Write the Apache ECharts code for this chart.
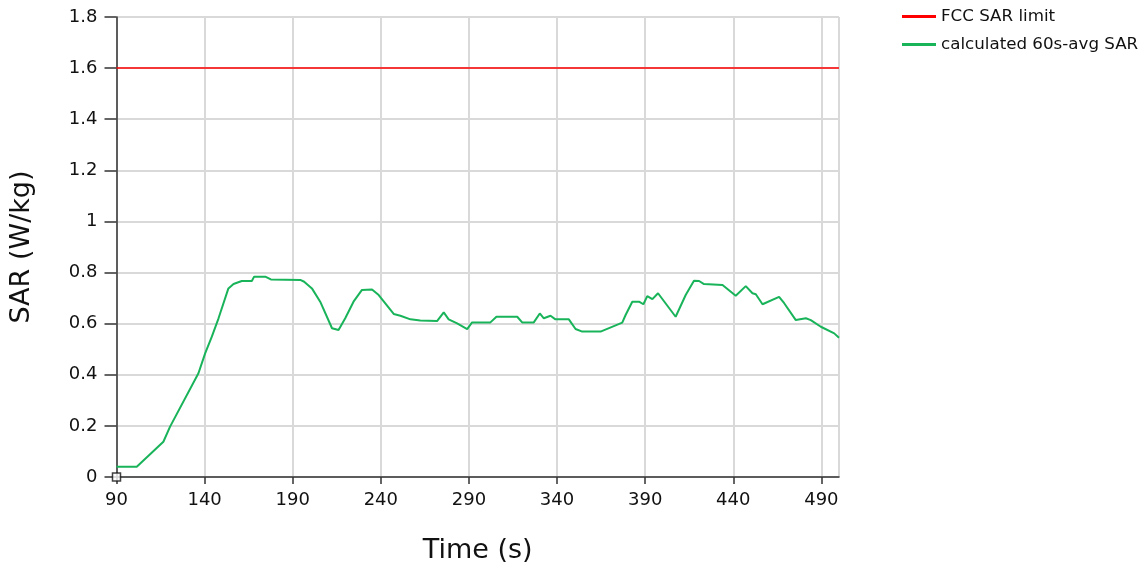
<!DOCTYPE html>
<html>
<head>
<meta charset="utf-8">
<script src="https://cdn.jsdelivr.net/npm/echarts@6/dist/echarts.min.js"></script>
<style>html,body{margin:0;padding:0;background:#fff;}#c{width:1144px;height:566px;}</style>
</head>
<body>
<div id="c"></div>
<script>
const seriesNames = ['FCC SAR limit', 'calculated 60s-avg SAR'];
const fccLimit = [[90, 1.6], [500, 1.6]];
const sarTime = [90, 101.5, 116.6, 120.4, 136.5, 140.3, 144.1, 147.9, 153.5, 156.4, 161.1, 166.8, 168.1, 174.4, 177.6, 194.3, 196.5, 200.9, 205.6, 212.3, 216.0, 219.8, 224.5, 229.3, 235.0, 238.8, 247.3, 251.1, 256.8, 262.4, 271.9, 275.7, 278.5, 283.3, 289.0, 291.8, 302.2, 305.6, 317.4, 320.2, 326.8, 330.2, 332.5, 336.3, 339.1, 346.7, 350.5, 354.3, 364.7, 377.0, 378.9, 382.7, 386.5, 389.0, 391.2, 394.1, 397.3, 407.3, 413.0, 417.7, 420.6, 423.4, 433.9, 441.4, 447.1, 450.9, 452.8, 456.6, 466.0, 468.9, 475.5, 481.2, 484.0, 489.7, 497.3, 500];
const sarValue = [0.040, 0.040, 0.138, 0.197, 0.406, 0.484, 0.549, 0.621, 0.738, 0.755, 0.767, 0.767, 0.784, 0.784, 0.773, 0.771, 0.764, 0.738, 0.686, 0.582, 0.575, 0.621, 0.686, 0.732, 0.734, 0.712, 0.638, 0.631, 0.617, 0.612, 0.610, 0.644, 0.617, 0.601, 0.579, 0.605, 0.605, 0.627, 0.627, 0.605, 0.605, 0.640, 0.621, 0.631, 0.617, 0.617, 0.579, 0.569, 0.569, 0.604, 0.634, 0.686, 0.686, 0.676, 0.708, 0.696, 0.719, 0.627, 0.712, 0.768, 0.767, 0.755, 0.751, 0.709, 0.747, 0.719, 0.715, 0.676, 0.705, 0.680, 0.614, 0.621, 0.614, 0.588, 0.562, 0.545];
const originMarker = [[90, 0]];
const xTitle = 'Time (s)';
const yTitle = 'SAR (W/kg)';

const sarData = sarTime.map((t, i) => [t, sarValue[i]]);
const font = 'DejaVu Sans';
const chart = echarts.init(document.getElementById('c'), null, {renderer: 'canvas'});
chart.setOption({
  animation: false,
  backgroundColor: '#fff',
  textStyle: {fontFamily: font},
  grid: {left: 116.5, right: 305, top: 17, bottom: 89, containLabel: false, outerBoundsMode: 'none'},
  legend: {
    orient: 'vertical', left: 897, top: 3, itemGap: 11,
    itemWidth: 34, itemHeight: 3, icon: 'rect',
    textStyle: {fontFamily: font, fontSize: 16.7, color: '#111'},
    data: seriesNames
  },
  xAxis: {
    type: 'value', min: 90, max: 500, interval: 50,
    name: xTitle, nameLocation: 'middle', nameGap: 60,
    nameTextStyle: {fontFamily: font, fontSize: 27, color: '#111'},
    axisLine: {show: true, onZero: false, lineStyle: {color: '#333', width: 1.5}},
    axisTick: {show: true, length: 7, lineStyle: {color: '#333', width: 1.5}},
    axisLabel: {fontFamily: font, fontSize: 18, color: '#111', margin: 14, showMaxLabel: false},
    splitLine: {show: true, lineStyle: {color: '#d9d9d9', width: 2}}
  },
  yAxis: {
    type: 'value', min: 0, max: 1.8, interval: 0.2,
    name: yTitle, nameLocation: 'middle', nameGap: 81, nameRotate: 90,
    nameTextStyle: {fontFamily: font, fontSize: 27, color: '#111'},
    axisLine: {show: true, lineStyle: {color: '#333', width: 1.5}},
    axisTick: {show: true, length: 12, lineStyle: {color: '#333', width: 1.5}},
    axisLabel: {fontFamily: font, fontSize: 18, color: '#111', margin: 19,
      formatter: v => String(parseFloat(v.toFixed(1)))},
    splitLine: {show: true, lineStyle: {color: '#d9d9d9', width: 2}}
  },
  series: [
    {name: seriesNames[0], type: 'line', data: fccLimit, showSymbol: false, symbol: 'none',
     lineStyle: {color: '#ff0000', width: 1.5}, itemStyle: {color: '#ff0000'}, z: 3},
    {name: seriesNames[1], type: 'line', data: sarData, showSymbol: false, symbol: 'none',
     lineStyle: {color: '#19b35a', width: 2}, itemStyle: {color: '#19b35a'}, z: 4},
    {type: 'scatter', data: originMarker, symbol: 'rect', symbolSize: 8,
     itemStyle: {color: '#fff', borderColor: '#111', borderWidth: 1.5}, z: 10, silent: true}
  ]
});
</script>
</body>
</html>
